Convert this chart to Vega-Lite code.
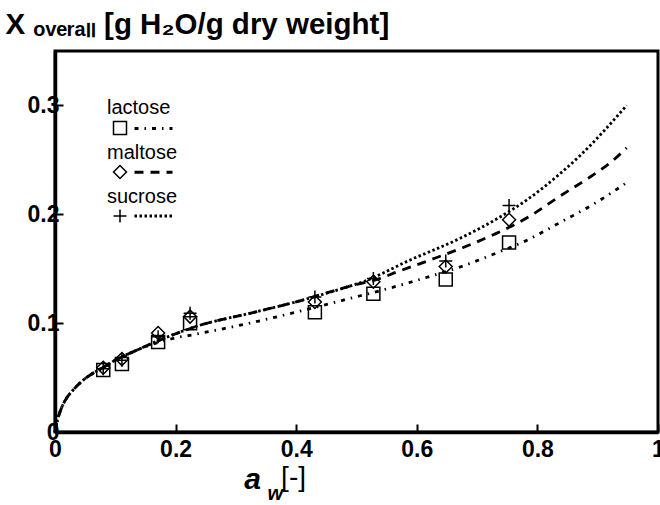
{
  "$schema": "https://vega.github.io/schema/vega-lite/v6.json",
  "width": 603,
  "height": 381,
  "autosize": {"type": "none"},
  "padding": {"left": 55, "top": 51, "right": 2, "bottom": 73},
  "background": "white",
  "config": {"view": {"stroke": "black", "strokeWidth": 3}, "font": "Liberation Sans"},
  "title": {
    "text": "[-]",
    "subtitle": "w",
    "orient": "bottom",
    "anchor": "start",
    "frame": "group",
    "align": "right",
    "dx": 251,
    "dy": -30,
    "offset": 0,
    "font": "Liberation Sans",
    "fontSize": 28,
    "fontWeight": "normal",
    "color": "black",
    "subtitleFont": "Liberation Sans",
    "subtitleFontSize": 20,
    "subtitleFontStyle": "italic",
    "subtitleFontWeight": "bold",
    "subtitleColor": "black",
    "subtitlePadding": -8,
    "encode": {"subtitle": {"update": {"dx": {"value": 228}}}}
  },
  "datasets": {
    "points": [
      {"sugar": "lactose", "aw": 0.08, "X": 0.057},
      {"sugar": "lactose", "aw": 0.111, "X": 0.0624},
      {"sugar": "lactose", "aw": 0.171, "X": 0.0826},
      {"sugar": "lactose", "aw": 0.224, "X": 0.1},
      {"sugar": "lactose", "aw": 0.431, "X": 0.11},
      {"sugar": "lactose", "aw": 0.528, "X": 0.127},
      {"sugar": "lactose", "aw": 0.648, "X": 0.14},
      {"sugar": "lactose", "aw": 0.753, "X": 0.174},
      {"sugar": "maltose", "aw": 0.08, "X": 0.059},
      {"sugar": "maltose", "aw": 0.111, "X": 0.067},
      {"sugar": "maltose", "aw": 0.171, "X": 0.091},
      {"sugar": "maltose", "aw": 0.224, "X": 0.106},
      {"sugar": "maltose", "aw": 0.431, "X": 0.1195},
      {"sugar": "maltose", "aw": 0.528, "X": 0.138},
      {"sugar": "maltose", "aw": 0.648, "X": 0.152},
      {"sugar": "maltose", "aw": 0.753, "X": 0.195},
      {"sugar": "sucrose", "aw": 0.08, "X": 0.058},
      {"sugar": "sucrose", "aw": 0.111, "X": 0.066},
      {"sugar": "sucrose", "aw": 0.171, "X": 0.0875},
      {"sugar": "sucrose", "aw": 0.224, "X": 0.109},
      {"sugar": "sucrose", "aw": 0.431, "X": 0.124},
      {"sugar": "sucrose", "aw": 0.528, "X": 0.141},
      {"sugar": "sucrose", "aw": 0.648, "X": 0.157},
      {"sugar": "sucrose", "aw": 0.753, "X": 0.208}
    ],
    "curves": [
      {"series": "lactose", "aw": 0, "X": 0},
      {"series": "lactose", "aw": 0.004, "X": 0.011},
      {"series": "lactose", "aw": 0.008, "X": 0.018},
      {"series": "lactose", "aw": 0.019, "X": 0.031},
      {"series": "lactose", "aw": 0.03, "X": 0.0385},
      {"series": "lactose", "aw": 0.047, "X": 0.0477},
      {"series": "lactose", "aw": 0.064, "X": 0.0544},
      {"series": "lactose", "aw": 0.077, "X": 0.0584},
      {"series": "lactose", "aw": 0.1, "X": 0.066},
      {"series": "lactose", "aw": 0.135, "X": 0.075},
      {"series": "lactose", "aw": 0.185, "X": 0.0845},
      {"series": "lactose", "aw": 0.24, "X": 0.0905},
      {"series": "lactose", "aw": 0.323, "X": 0.1},
      {"series": "lactose", "aw": 0.406, "X": 0.111},
      {"series": "lactose", "aw": 0.484, "X": 0.122},
      {"series": "lactose", "aw": 0.567, "X": 0.134},
      {"series": "lactose", "aw": 0.622, "X": 0.143},
      {"series": "lactose", "aw": 0.674, "X": 0.152},
      {"series": "lactose", "aw": 0.73, "X": 0.164},
      {"series": "lactose", "aw": 0.782, "X": 0.176},
      {"series": "lactose", "aw": 0.836, "X": 0.192},
      {"series": "lactose", "aw": 0.892, "X": 0.209},
      {"series": "lactose", "aw": 0.948, "X": 0.229},
      {"series": "maltose", "aw": 0, "X": 0},
      {"series": "maltose", "aw": 0.004, "X": 0.011},
      {"series": "maltose", "aw": 0.008, "X": 0.018},
      {"series": "maltose", "aw": 0.019, "X": 0.031},
      {"series": "maltose", "aw": 0.03, "X": 0.0385},
      {"series": "maltose", "aw": 0.047, "X": 0.0477},
      {"series": "maltose", "aw": 0.064, "X": 0.0544},
      {"series": "maltose", "aw": 0.077, "X": 0.0584},
      {"series": "maltose", "aw": 0.1, "X": 0.066},
      {"series": "maltose", "aw": 0.135, "X": 0.075},
      {"series": "maltose", "aw": 0.185, "X": 0.087},
      {"series": "maltose", "aw": 0.24, "X": 0.098},
      {"series": "maltose", "aw": 0.323, "X": 0.109},
      {"series": "maltose", "aw": 0.406, "X": 0.1205},
      {"series": "maltose", "aw": 0.489, "X": 0.134},
      {"series": "maltose", "aw": 0.539, "X": 0.141},
      {"series": "maltose", "aw": 0.567, "X": 0.147},
      {"series": "maltose", "aw": 0.622, "X": 0.158},
      {"series": "maltose", "aw": 0.677, "X": 0.1695},
      {"series": "maltose", "aw": 0.73, "X": 0.182},
      {"series": "maltose", "aw": 0.785, "X": 0.1975},
      {"series": "maltose", "aw": 0.837, "X": 0.2165},
      {"series": "maltose", "aw": 0.892, "X": 0.236},
      {"series": "maltose", "aw": 0.92, "X": 0.247},
      {"series": "maltose", "aw": 0.948, "X": 0.261},
      {"series": "sucrose", "aw": 0, "X": 0},
      {"series": "sucrose", "aw": 0.004, "X": 0.011},
      {"series": "sucrose", "aw": 0.008, "X": 0.018},
      {"series": "sucrose", "aw": 0.019, "X": 0.031},
      {"series": "sucrose", "aw": 0.03, "X": 0.0385},
      {"series": "sucrose", "aw": 0.047, "X": 0.0477},
      {"series": "sucrose", "aw": 0.064, "X": 0.0544},
      {"series": "sucrose", "aw": 0.077, "X": 0.0584},
      {"series": "sucrose", "aw": 0.1, "X": 0.066},
      {"series": "sucrose", "aw": 0.135, "X": 0.075},
      {"series": "sucrose", "aw": 0.185, "X": 0.087},
      {"series": "sucrose", "aw": 0.24, "X": 0.098},
      {"series": "sucrose", "aw": 0.323, "X": 0.109},
      {"series": "sucrose", "aw": 0.406, "X": 0.1205},
      {"series": "sucrose", "aw": 0.489, "X": 0.134},
      {"series": "sucrose", "aw": 0.506, "X": 0.137},
      {"series": "sucrose", "aw": 0.589, "X": 0.158},
      {"series": "sucrose", "aw": 0.672, "X": 0.178},
      {"series": "sucrose", "aw": 0.738, "X": 0.1975},
      {"series": "sucrose", "aw": 0.782, "X": 0.213},
      {"series": "sucrose", "aw": 0.837, "X": 0.237},
      {"series": "sucrose", "aw": 0.871, "X": 0.254},
      {"series": "sucrose", "aw": 0.948, "X": 0.3}
    ]
  },
  "encoding": {
    "x": {
      "field": "aw",
      "type": "quantitative",
      "scale": {"domain": [0, 1], "nice": false},
      "axis": {
        "values": [0, 0.2, 0.4, 0.6, 0.8, 1],
        "format": "~g",
        "grid": false,
        "title": "a",
        "titleFont": "Liberation Sans",
        "titleFontSize": 30,
        "titleFontStyle": "italic",
        "titleFontWeight": "bold",
        "titleColor": "black",
        "titleX": 197,
        "titleY": 56,
        "titleAlign": "center",
        "titleBaseline": "alphabetic",
        "tickSize": -8,
        "tickWidth": 2,
        "tickColor": "black",
        "domainColor": "black",
        "domainWidth": 3.5,
        "labelFont": "Liberation Sans",
        "labelFontSize": 23,
        "labelFontWeight": "bold",
        "labelColor": "black",
        "labelPadding": 14,
        "labelFlush": false,
        "labelOverlap": false
      }
    },
    "y": {
      "field": "X",
      "type": "quantitative",
      "scale": {"domain": [0, 0.35], "nice": false},
      "axis": {
        "values": [0, 0.1, 0.2, 0.3],
        "format": "~g",
        "grid": false,
        "title": "X ₒᵥₑᵣₐₗₗ [g H₂O/g dry weight]",
        "titleFont": "Liberation Sans",
        "titleFontSize": 29.5,
        "titleFontWeight": "bold",
        "titleColor": "black",
        "titleAngle": 0,
        "titleX": -50,
        "titleY": -18,
        "titleAlign": "left",
        "titleBaseline": "alphabetic",
        "tickSize": -8,
        "tickWidth": 2,
        "tickColor": "black",
        "domainColor": "black",
        "domainWidth": 3.5,
        "labelFont": "Liberation Sans",
        "labelFontSize": 23,
        "labelFontWeight": "bold",
        "labelColor": "black",
        "labelPadding": 4,
        "labelFlush": false,
        "labelOverlap": false
      }
    }
  },
  "layer": [
    {
      "data": {"name": "curves"},
      "mark": {"type": "line", "color": "black", "strokeWidth": 2.8, "interpolate": "monotone"},
      "encoding": {
        "strokeDash": {
          "field": "series",
          "type": "nominal",
          "scale": {"range": [[4, 6, 1.5, 6], [9, 7], [2.5, 2.5]]},
          "legend": {
            "title": null,
            "orient": "none",
            "legendX": 78,
            "legendY": 57,
            "symbolType": "stroke",
            "symbolSize": 1444,
            "symbolStrokeWidth": 2.8,
            "symbolStrokeColor": "black",
            "labelExpr": "''",
            "labelFontSize": 20,
            "rowPadding": 12.75,
            "padding": 0
          }
        }
      }
    },
    {
      "data": {"name": "points"},
      "mark": {"type": "point", "filled": false, "strokeWidth": 1.5, "size": 169, "opacity": 1},
      "encoding": {
        "shape": {
          "field": "sugar",
          "type": "nominal",
          "scale": {"domain": ["lactose", "maltose", "sucrose"], "range": ["square", "diamond", "M-1,0H1M0,-1V1"]},
          "legend": {
            "title": null,
            "orient": "none",
            "legendX": 55,
            "legendY": 67,
            "symbolSize": 169,
            "symbolStrokeWidth": 1.5,
            "symbolStrokeColor": "black",
            "symbolFillColor": "transparent",
            "labelExpr": "''",
            "labelFontSize": 20,
            "rowPadding": 24,
            "padding": 0
          }
        },
        "color": {
          "field": "sugar",
          "type": "nominal",
          "scale": {"range": ["black", "black", "black"]},
          "legend": {
            "title": null,
            "orient": "none",
            "legendX": 32,
            "legendY": 47,
            "symbolSize": 1,
            "symbolOpacity": 0,
            "labelOffset": 0,
            "labelFont": "Liberation Sans",
            "labelFontSize": 20,
            "labelColor": "black",
            "rowPadding": 24.5,
            "padding": 0
          }
        }
      }
    }
  ]
}
